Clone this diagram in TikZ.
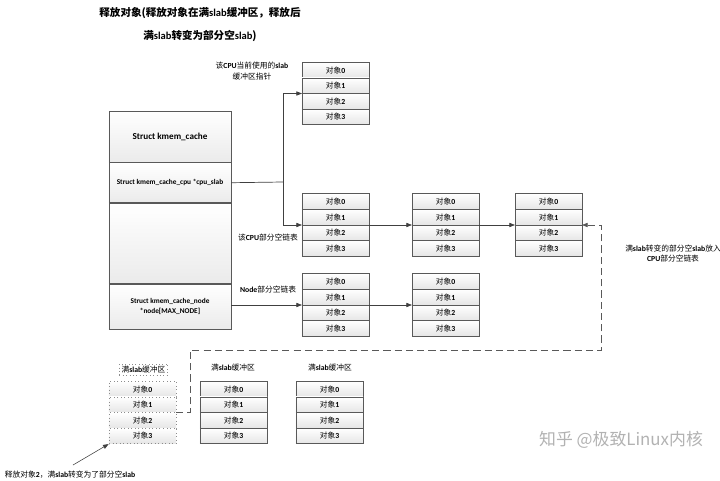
\documentclass[tikz,border=0pt]{standalone}
\usepackage{fontspec}
\setmainfont{Noto Sans CJK SC}
\newfontfamily\latf{Carlito}
\newcommand{\lb}[1]{{\latf\bfseries #1}}
\usetikzlibrary{arrows.meta,positioning}

\begin{document}
\begin{tikzpicture}[x=0.025cm, y=-0.025cm,
	font=\fontsize{5.5}{7.5}\selectfont,
	line/.style={draw=black!75, line width=0.5pt},
	arr/.style={line, -{Triangle[length=4pt,width=3pt]}},
	dasharr/.style={arr, draw=black!65, dash pattern=on 5pt off 3pt},
	objrow/.style={draw=black!65, line width=0.5pt, top color=white, bottom color=black!10,
		minimum width=1.675cm, minimum height=0.39cm, inner sep=0pt},
	kpart/.style={draw=black!65, line width=0.5pt, top color=white, bottom color=black!8,
		minimum width=3.05cm, inner sep=0pt, align=center, font=\fontsize{5.2}{7}\latf\bfseries},
	note/.style={align=center, font=\fontsize{5.5}{7.5}\selectfont},
	pics/objbox/.style={code={
		\coordinate (-in)  at (0,0);
		\coordinate (-out) at (67,0);
		\foreach \k in {0,...,3}
			\node[objrow,#1] (-r\k) at (33.5,-23.4+15.6*\k) {对象\lb{\k}};
	}}]
	\useasboundingbox (0,0) rectangle (720,480);

	\node[align=center, font=\fontsize{7.5}{16.3}\selectfont\bfseries] (title) at (200,24.5)
		{释放对象(释放对象在满\lb{slab}缓冲区，释放后\\满\lb{slab}转变为部分空\lb{slab})};

	% kmem_cache
	\node[kpart, minimum height=1.275cm, font=\fontsize{6.5}{8}\latf\bfseries] (kc) at (170,136.5) {Struct kmem\_cache};
	\node[kpart, minimum height=1cm, below=0pt of kc]       (cpu)   {Struct kmem\_cache\_cpu *cpu\_slab};
	\node[kpart, minimum height=2cm, below=0pt of cpu]      (gap)   {};
	\node[kpart, minimum height=1.125cm, below=0pt of gap]  (knode) {Struct kmem\_cache\_node\\*node[MAX\_NODE]};

	% slab boxes
	\pic (T)  at (302,93.5)  {objbox=solid};
	\pic (C1) at (302,225)   {objbox=solid};
	\pic (C2) at (412,225)   {objbox=solid};
	\pic (C3) at (515,225)   {objbox=solid};
	\pic (N1) at (302,305)   {objbox=solid};
	\pic (N2) at (412,305)   {objbox=solid};
	\pic (F1) at (109,412.5) {objbox={dotted,draw=black!45}};
	\pic (F2) at (200,412.5) {objbox=solid};
	\pic (F3) at (296,412.5) {objbox=solid};

	\node[note] (ptrlbl)  at (252,71)  {该\lb{CPU}当前使用的\lb{slab}\\缓冲区指针};
	\node[note] (cpulbl)  at (268,238) {该\lb{CPU}部分空链表};
	\node[note] (nodelbl) at (268,290) {\lb{Node}部分空链表};
	\node[note] (movelbl) at (673,253.5) {满\lb{slab}转变的部分空\lb{slab}放入\\\lb{CPU}部分空链表};
	\node[note, draw=black!45, dotted, inner sep=1.5pt] (f1lbl) at (143.5,369.5) {满\lb{slab}缓冲区};
	\node[note] (f2lbl) at (233,368) {满\lb{slab}缓冲区};
	\node[note] (f3lbl) at (330,368) {满\lb{slab}缓冲区};
	\node[note, anchor=west] (rellbl) at (0,475) {释放对象\lb{2}，满\lb{slab}转变为了部分空\lb{slab}};
	\node[font=\fontsize{12}{14}\selectfont, text=black!30] (mark) at (621,440) {知乎 @极致Linux内核};

	% connectors
	\coordinate (split) at (283,182);
	\draw[line] (cpu.east) -- (split);
	\draw[arr] (split) |- (T-in);
	\draw[arr] (split) |- (C1-in);
	\draw[arr] (C1-out) -- (C2-in);
	\draw[arr] (C2-out) -- (C3-in);
	\draw[arr] (knode.east |- N1-in) -- (N1-in);
	\draw[arr] (N1-out) -- (N2-in);

	\coordinate (dl) at (190,350);
	\coordinate (dr) at (601,350);
	\draw[dasharr] (F1-out) -| (dl) -- (dr) |- (C3-out);

	\coordinate (relstart) at (73,465);
	\draw[arr, line width=0.4pt] (relstart) -- (F1-r3.south west);
\end{tikzpicture}
\end{document}
